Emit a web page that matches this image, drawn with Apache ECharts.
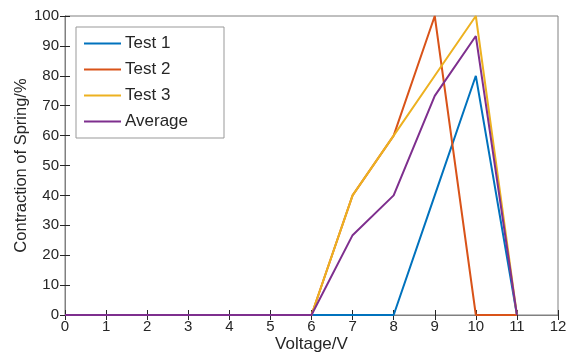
<!DOCTYPE html>
<html>
<head>
<meta charset="utf-8">
<script src="https://cdn.jsdelivr.net/npm/echarts@6/dist/echarts.min.js"></script>
<style>
  html, body { margin: 0; padding: 0; background: #fff; }
  #chart { width: 569px; height: 356px; }
</style>
</head>
<body>
<div id="chart"></div>
<script>
// voltage steps
const voltage = [0, 1, 2, 3, 4, 5, 6, 7, 8, 9, 10, 11];
// contraction of spring (%)
const test1 = [0, 0, 0, 0, 0, 0, 0, 0, 0, 40, 80, 0];
const test2 = [0, 0, 0, 0, 0, 0, 0, 40, 60, 100, 0, 0];
const test3 = [0, 0, 0, 0, 0, 0, 0, 40, 60, 80, 100, 0];
const average = [0, 0, 0, 0, 0, 0, 0, 26.7, 40, 73.3, 93.3, 0];

const names = ['Test 1', 'Test 2', 'Test 3', 'Average'];
const colors = ['#0072BD', '#D95319', '#EDB120', '#7E2F8E'];
const values = [test1, test2, test3, average];

const font = 'Liberation Sans, Arial, Helvetica, sans-serif';
const axisGray = '#262626';

const chart = echarts.init(document.getElementById('chart'));

const tickStyle = { show: true, inside: true, length: 5, lineStyle: { color: axisGray, width: 1 } };
const lineStyle = { lineStyle: { color: '#808080', width: 1 } };

const option = {
    animation: false,
    color: colors,
    grid: {
        left: 65, right: 11, top: 16, bottom: 41,
        outerBoundsMode: 'none', containLabel: false,
        show: true, borderColor: '#808080', borderWidth: 1
    },
    legend: {
        orient: 'vertical',
        left: 76,
        top: 27,
        padding: [8, 36, 8, 8],
        itemGap: 9,
        itemWidth: 37,
        itemHeight: 2,
        borderColor: '#999',
        borderWidth: 1,
        backgroundColor: '#fff',
        textStyle: { fontFamily: font, fontSize: 17, color: axisGray, padding: [0, 0, 0, -1] },
        data: names.map(n => ({ name: n, icon: 'rect' }))
    },
    xAxis: [
        {
            type: 'value', min: 0, max: 12, interval: 1,
            name: 'Voltage/V', nameLocation: 'middle', nameGap: 21, nameMoveOverlap: false,
            nameTextStyle: { fontFamily: font, fontSize: 17, color: axisGray },
            axisLine: lineStyle, axisTick: tickStyle, splitLine: { show: false },
            axisLabel: { fontFamily: font, fontSize: 15, color: axisGray, margin: 4 }
        },
        {
            type: 'value', min: 0, max: 12, interval: 1, position: 'top',
            axisLine: lineStyle, axisTick: tickStyle, splitLine: { show: false },
            axisLabel: { show: false }
        }
    ],
    yAxis: [
        {
            type: 'value', min: 0, max: 100, interval: 10,
            name: 'Contraction of Spring/%', nameLocation: 'middle', nameGap: 35, nameMoveOverlap: false,
            nameTextStyle: { fontFamily: font, fontSize: 16.5, color: axisGray },
            axisLine: { show: true, lineStyle: { color: '#808080', width: 1 } },
            axisTick: tickStyle, splitLine: { show: false },
            axisLabel: { fontFamily: font, fontSize: 15, color: axisGray, margin: 6 }
        },
        {
            type: 'value', min: 0, max: 100, interval: 10, position: 'right',
            axisLine: { show: true, lineStyle: { color: '#808080', width: 1 } },
            axisTick: tickStyle, splitLine: { show: false },
            axisLabel: { show: false }
        }
    ],
    series: names.map((n, i) => ({
        name: n,
        type: 'line',
        symbol: 'none',
        lineStyle: { width: 2, color: colors[i] },
        itemStyle: { color: colors[i] },
        data: voltage.map((v, k) => [v, values[i][k]])
    }))
};

chart.setOption(option);
</script>
</body>
</html>
